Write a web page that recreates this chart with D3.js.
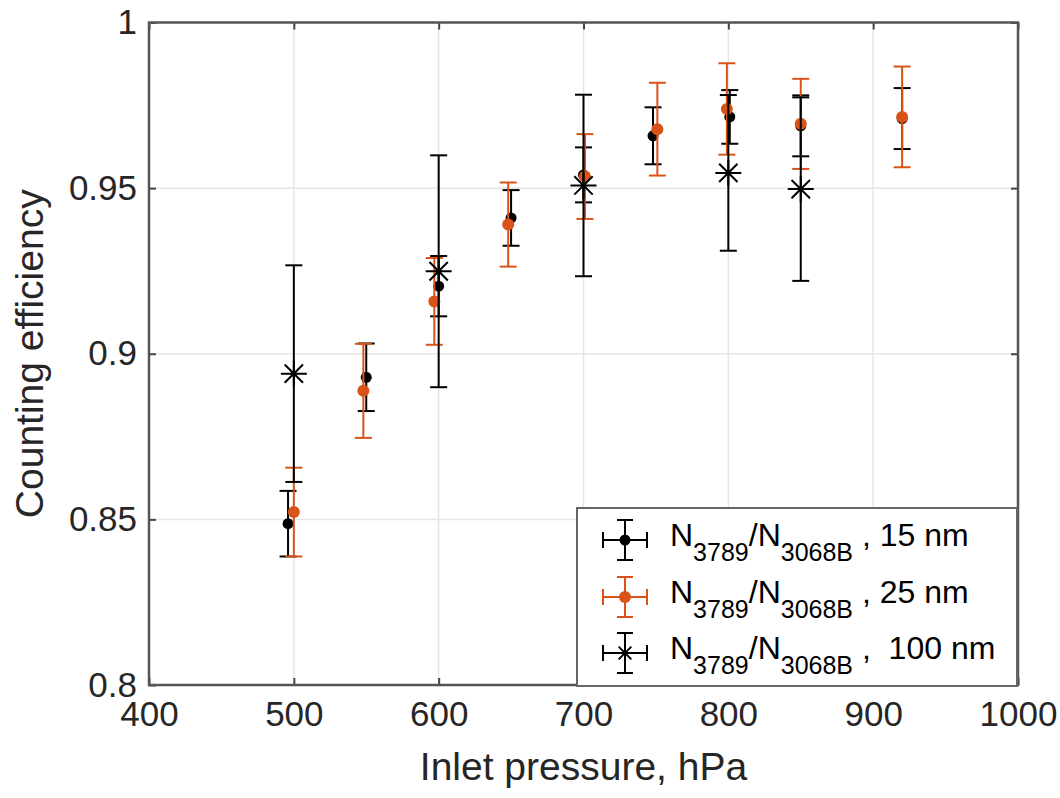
<!DOCTYPE html>
<html>
<head>
<meta charset="utf-8">
<script src="https://cdn.jsdelivr.net/npm/d3@7"></script>
<style>
  html, body { margin: 0; padding: 0; background: #fff; }
  svg { display: block; font-family: "Liberation Sans", Arial, Helvetica, sans-serif; }
</style>
</head>
<body>
<svg id="chart" width="1060" height="798"></svg>
<script>
// ---- data ----
const xTicks = [400, 500, 600, 700, 800, 900, 1000];
const yTicks = [0.8, 0.85, 0.9, 0.95, 1];

const x15   = [496, 550, 600, 650, 700, 748, 801, 850, 920];
const y15   = [0.8487, 0.8929, 0.9204, 0.9410, 0.9540, 0.9658, 0.9715, 0.9688, 0.9710];
const e15   = [0.0099, 0.0102, 0.0091, 0.0084, 0.0083, 0.0086, 0.0081, 0.0092, 0.0092];

const x25   = [500, 548, 597, 648, 701, 751, 799, 850, 920];
const y25   = [0.8522, 0.8888, 0.9158, 0.9390, 0.9535, 0.9678, 0.9739, 0.9694, 0.9715];
const e25   = [0.0134, 0.0142, 0.0131, 0.0127, 0.0128, 0.0140, 0.0138, 0.0136, 0.0152];

const x100  = [500, 600, 700, 800, 850];
const y100  = [0.8940, 0.9249, 0.9508, 0.9546, 0.9497];
const e100  = [0.0327, 0.0350, 0.0274, 0.0235, 0.0277];

const seriesNames = ["15 nm", "25 nm", " 100 nm"];
const seriesColors = ["#000000", "#D95319", "#000000"];
const xLabel = "Inlet pressure, hPa";
const yLabel = "Counting efficiency";

// ---- layout ----
const svg = d3.select("#chart");
const L = 149, R = 1018, T = 22.5, B = 685;
const x = d3.scaleLinear().domain([400, 1000]).range([L, R]);
const y = d3.scaleLinear().domain([0.8, 1]).range([B, T]);

// grid
const grid = svg.append("g");
grid.selectAll("line.gx").data(xTicks).join("line")
  .attr("x1", d => x(d)).attr("x2", d => x(d)).attr("y1", T).attr("y2", B)
  .attr("stroke", "#e6e6e6").attr("stroke-width", 1.5);
grid.selectAll("line.gy").data(yTicks).join("line")
  .attr("y1", d => y(d)).attr("y2", d => y(d)).attr("x1", L).attr("x2", R)
  .attr("stroke", "#e6e6e6").attr("stroke-width", 1.5);

// axes
const axCol = "#262626";
const fmt = d3.format("~g");
const xAxis = svg.append("g").attr("transform", `translate(0,${B})`)
  .call(d3.axisBottom(x).tickValues(xTicks).tickSize(-7).tickPadding(16).tickFormat(fmt));
const xAxisTop = svg.append("g").attr("transform", `translate(0,${T})`)
  .call(d3.axisTop(x).tickValues(xTicks).tickSize(-7).tickFormat(""));
const yAxis = svg.append("g").attr("transform", `translate(${L},0)`)
  .call(d3.axisLeft(y).tickValues(yTicks).tickSize(-7).tickPadding(12).tickFormat(fmt));
const yAxisR = svg.append("g").attr("transform", `translate(${R},0)`)
  .call(d3.axisRight(y).tickValues(yTicks).tickSize(-7).tickFormat(""));
[xAxis, xAxisTop, yAxis, yAxisR].forEach(g => {
  g.select(".domain").remove();
  g.selectAll(".tick line").attr("stroke", "#444").attr("stroke-width", 2);
  g.selectAll(".tick text").attr("fill", axCol).attr("font-size", 35)
    .attr("font-family", "'Liberation Sans', Arial, sans-serif");
});
xAxis.selectAll(".tick text").attr("dy", "0.71em");

// box
svg.append("rect").attr("x", L).attr("y", T).attr("width", R - L).attr("height", B - T)
  .attr("fill", "none").attr("stroke", "#555").attr("stroke-width", 2.5);

// labels
svg.append("text").attr("x", (L + R) / 2).attr("y", 780).attr("text-anchor", "middle")
  .attr("font-size", 39).attr("fill", axCol).text(xLabel);
svg.append("text").attr("transform", `translate(43,${(T + B) / 2}) rotate(-90)`)
  .attr("text-anchor", "middle").attr("font-size", 39).attr("fill", axCol).text(yLabel);

// ---- series ----
const capW = 8.5;
function drawErr(g, xs, ys, es, color) {
  const d = xs.map((v, i) => ({ x: v, y: ys[i], e: es[i] }));
  const eg = g.append("g").attr("stroke", color).attr("stroke-width", 2).attr("fill", "none");
  eg.selectAll("line.v").data(d).join("line")
    .attr("x1", p => x(p.x)).attr("x2", p => x(p.x))
    .attr("y1", p => y(p.y - p.e)).attr("y2", p => y(p.y + p.e));
  eg.selectAll("line.t").data(d).join("line")
    .attr("x1", p => x(p.x) - capW).attr("x2", p => x(p.x) + capW)
    .attr("y1", p => y(p.y + p.e)).attr("y2", p => y(p.y + p.e));
  eg.selectAll("line.b").data(d).join("line")
    .attr("x1", p => x(p.x) - capW).attr("x2", p => x(p.x) + capW)
    .attr("y1", p => y(p.y - p.e)).attr("y2", p => y(p.y - p.e));
  return d;
}
function asterisk(g, cx, cy, r, color) {
  const a = r * Math.SQRT1_2;
  const path = `M${cx - r},${cy}L${cx + r},${cy}M${cx},${cy - r}L${cx},${cy + r}` +
    `M${cx - a},${cy - a}L${cx + a},${cy + a}M${cx - a},${cy + a}L${cx + a},${cy - a}`;
  g.append("path").attr("d", path).attr("stroke", color).attr("stroke-width", 2).attr("fill", "none");
}

const g15 = svg.append("g");
const d15 = drawErr(g15, x15, y15, e15, seriesColors[0]);
g15.selectAll("circle").data(d15).join("circle")
  .attr("cx", p => x(p.x)).attr("cy", p => y(p.y)).attr("r", 5.5).attr("fill", seriesColors[0]);

const g25 = svg.append("g");
const d25 = drawErr(g25, x25, y25, e25, seriesColors[1]);
g25.selectAll("circle").data(d25).join("circle")
  .attr("cx", p => x(p.x)).attr("cy", p => y(p.y)).attr("r", 6).attr("fill", seriesColors[1]);

const g100 = svg.append("g");
const d100 = drawErr(g100, x100, y100, e100, seriesColors[2]);
d100.forEach(p => asterisk(g100, x(p.x), y(p.y), 13, seriesColors[2]));

// ---- legend ----
const lg = svg.append("g");
lg.append("rect").attr("x", 577).attr("y", 508).attr("width", 440).attr("height", 178)
  .attr("fill", "#fff").attr("stroke", "#666").attr("stroke-width", 2);
const rowY = [540, 597, 653];
const icx = 625;
seriesNames.forEach((name, i) => {
  const cy = rowY[i], col = seriesColors[i];
  const ig = lg.append("g").attr("stroke", col).attr("stroke-width", 2).attr("fill", "none");
  ig.append("line").attr("x1", icx - 22).attr("x2", icx + 22).attr("y1", cy).attr("y2", cy);
  ig.append("line").attr("x1", icx - 22).attr("x2", icx - 22).attr("y1", cy - 8).attr("y2", cy + 8);
  ig.append("line").attr("x1", icx + 22).attr("x2", icx + 22).attr("y1", cy - 8).attr("y2", cy + 8);
  ig.append("line").attr("x1", icx).attr("x2", icx).attr("y1", cy - 20).attr("y2", cy + 20);
  ig.append("line").attr("x1", icx - 8).attr("x2", icx + 8).attr("y1", cy - 20).attr("y2", cy - 20);
  ig.append("line").attr("x1", icx - 8).attr("x2", icx + 8).attr("y1", cy + 20).attr("y2", cy + 20);
  if (i < 2) {
    lg.append("circle").attr("cx", icx).attr("cy", cy).attr("r", i === 0 ? 5.5 : 6).attr("fill", col);
  } else {
    asterisk(lg, icx, cy, 9, col);
  }
  const t = lg.append("text").attr("x", 670).attr("y", cy + 6).attr("font-size", 32).attr("fill", "#000")
    .attr("xml:space", "preserve");
  t.append("tspan").text("N");
  t.append("tspan").attr("font-size", 25).attr("dy", 15).text("3789");
  t.append("tspan").attr("dy", -15).text("/N");
  t.append("tspan").attr("font-size", 25).attr("dy", 15).text("3068B");
  t.append("tspan").attr("dy", -15).text(" , " + name);
});
</script>
</body>
</html>
